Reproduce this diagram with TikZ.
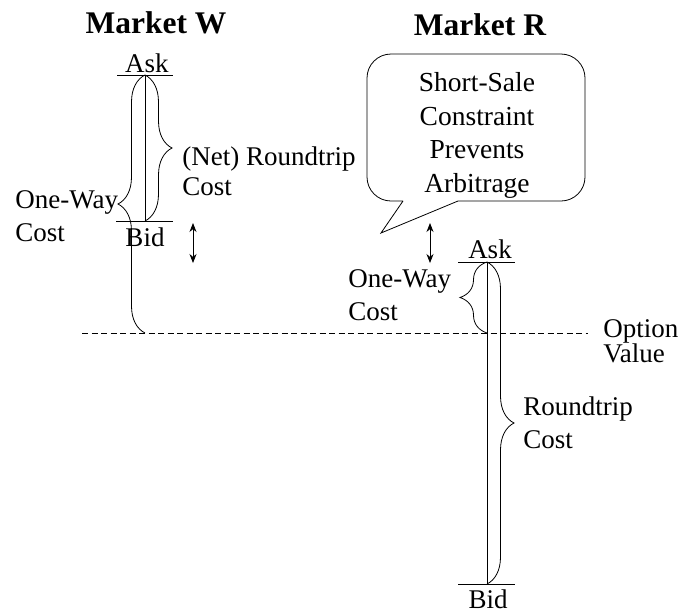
\documentclass[tikz,border=0pt]{standalone}
\usepackage{fontspec}
\setmainfont{Liberation Serif}
\usetikzlibrary{arrows.meta,decorations.pathreplacing}
\begin{document}
\begin{tikzpicture}[x=1pt,y=-1pt,line width=0.8pt,
  lbl/.style={font=\fontsize{27}{33}\selectfont,inner sep=0pt,align=left,anchor=base west},
  ttl/.style={font=\fontsize{31.5}{36}\selectfont\bfseries,inner sep=0pt,anchor=base},
  tick/.style={font=\fontsize{27}{33}\selectfont,inner sep=0pt,anchor=base},
  brc/.style={decorate,decoration={brace,amplitude=27pt}},
  dbl/.style={{Stealth[length=9pt,width=7pt]}-{Stealth[length=9pt,width=7pt]}},
  lvl/.style={line width=0.8pt},
  optline/.style={dash pattern=on 6pt off 3.5pt}
]
\useasboundingbox (0,0) rectangle (680,614);
% titles
\node[ttl] (mw) at (156,33) {Market W};
\node[ttl] (mr) at (480,35) {Market R};
% Market W
\coordinate (waskL) at (117,75);
\coordinate (waskR) at (173,75);
\coordinate (wask) at (145,75);
\coordinate (wbidL) at (116,221);
\coordinate (wbidR) at (173,221);
\coordinate (wbid) at (145,221);
\coordinate (wopt) at (145,333);
\draw[lvl] (waskL) -- (waskR);
\draw[lvl] (wbidL) -- (wbidR);
\draw (wask) -- (wbid);
\node[tick] (waskt) at (147,72) {Ask};
\node[tick] (wbidt) at (145,246) {Bid};
\draw[brc] (wask) -- (wbid);
\draw[brc] (wopt) -- (wask);
\node[lbl,font=\fontsize{27}{30}\selectfont] (wrt) at (182,195) {(Net) Roundtrip\\Cost};
\node[lbl] (wow) at (15,241) {One-Way\\Cost};
\coordinate (wa1) at (193,223);
\coordinate (wa2) at (193,263);
\draw[dbl] (wa1) -- (wa2);
% option value line
\coordinate (dl) at (82,333);
\coordinate (dr) at (588,333);
\draw[optline] (dl) -- (dr);
\node[lbl,font=\fontsize{27}{25}\selectfont] (opt) at (603,362) {Option\\Value};
% Market R
\coordinate (raskL) at (458,262);
\coordinate (raskR) at (515,262);
\coordinate (rask) at (487,262);
\coordinate (rbidL) at (458,584);
\coordinate (rbidR) at (515,584);
\coordinate (rbid) at (487,584);
\coordinate (ropt) at (487,333);
\draw[lvl] (raskL) -- (raskR);
\draw[lvl] (rbidL) -- (rbidR);
\draw (rask) -- (rbid);
\node[tick] (raskt) at (490,258) {Ask};
\node[tick] (rbidt) at (488,608) {Bid};
\draw[brc] (rask) -- (rbid);
\draw[brc] (ropt) -- (rask);
\node[lbl] (row) at (348,320) {One-Way\\Cost};
\node[lbl] (rrt) at (523,448) {Roundtrip\\Cost};
\coordinate (ra1) at (430,223);
\coordinate (ra2) at (430,263);
\draw[dbl] (ra1) -- (ra2);
% speech bubble
\coordinate (t1) at (403,201);
\coordinate (tp) at (381,233);
\coordinate (t2) at (458,201);
\draw (t1) -- (tp) -- (t2) [rounded corners=24pt] -- (585,201) -- (585,54) -- (367,54) -- (367,201) -- (t1);
\node[font=\fontsize{27.5}{33.5}\selectfont,inner sep=0pt,align=center,anchor=base] (bub) at (477,192) {Short-Sale\\Constraint\\Prevents\\Arbitrage};
\end{tikzpicture}
\end{document}
